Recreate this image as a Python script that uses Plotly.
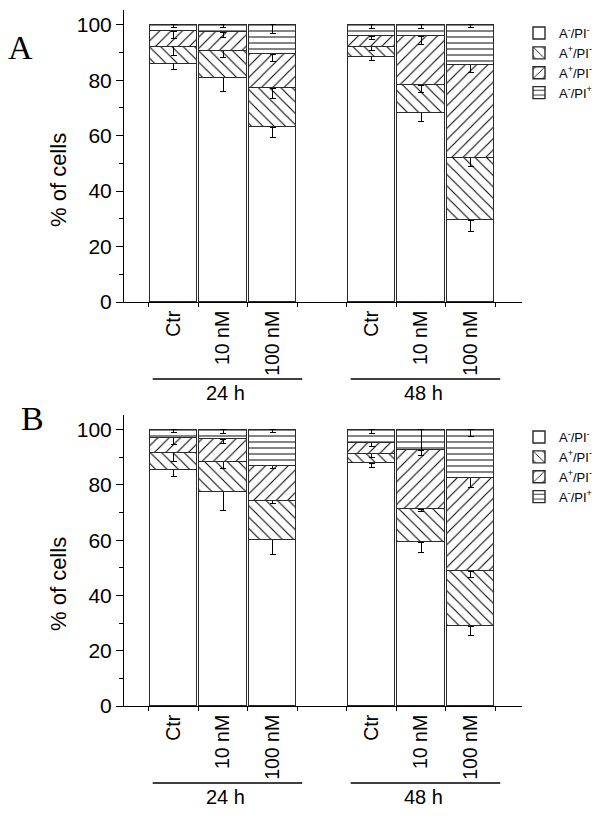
import plotly.graph_objects as go

# ---------------- data ----------------
categories = ["Ctr", "10 nM", "100 nM", "Ctr", "10 nM", "100 nM"]
positions = [1, 2, 3, 5, 6, 7]
groups = ["24 h", "48 h"]
group_centers = [2, 6]
series_names = ["A<sup>-</sup>/PI<sup>-</sup>", "A<sup>+</sup>/PI<sup>-</sup>",
                "A<sup>+</sup>/PI<sup>-</sup>", "A<sup>-</sup>/PI<sup>+</sup>"]
y_ticks = [0, 20, 40, 60, 80, 100]

# Panel A (segment heights, %)
A_white = [86.0, 80.8, 63.1, 88.4, 68.3, 29.5]
A_back = [6.0, 9.8, 14.0, 3.6, 9.9, 22.5]
A_fwd = [5.6, 6.7, 12.3, 3.8, 17.6, 33.5]
A_horiz = [2.4, 2.7, 10.6, 4.2, 4.2, 14.5]
A_white_err = [2.3, 4.8, 3.8, 1.2, 3.2, 4.0]
A_back_err = [3.2, 2.4, 3.7, 1.4, 2.7, 3.2]
A_fwd_err = [2.4, 1.9, 2.8, 1.2, 2.8, 2.7]
A_horiz_err = [1.0, 0.9, 3.1, 1.2, 1.2, 1.0]

# Panel B
B_white = [85.4, 77.5, 60.1, 87.8, 59.3, 28.8]
B_back = [6.3, 10.9, 14.2, 3.4, 11.9, 19.9]
B_fwd = [5.3, 8.1, 12.7, 4.1, 21.4, 33.9]
B_horiz = [3.0, 3.5, 13.0, 4.7, 7.4, 17.4]
B_white_err = [2.2, 6.6, 5.1, 1.4, 3.8, 3.3]
B_back_err = [3.3, 2.4, 1.0, 1.2, 0.8, 2.1]
B_fwd_err = [2.2, 1.5, 1.0, 1.4, 1.8, 3.5]
B_horiz_err = [1.0, 1.4, 1.2, 1.4, 9.2, 2.5]

# ---------------- styling ----------------
W, H = 604, 819
OFF = 8  # page body margin
FONT = "Liberation Sans, Arial, sans-serif"
patterns = [
    dict(shape=""),
    dict(shape="\\", size=8, solidity=0.13, fgcolor="black", bgcolor="white", fillmode="replace"),
    dict(shape="/", size=8, solidity=0.13, fgcolor="black", bgcolor="white", fillmode="replace"),
    dict(shape="-", size=6, solidity=0.22, fgcolor="#444", bgcolor="white", fillmode="replace"),
]

def px_x(p):
    return (p - OFF) / W

def px_y(p):
    return 1 - (p - OFF) / H

fig = go.Figure()

panels = [
    ("x", "y", "legend", [A_white, A_back, A_fwd, A_horiz],
     [A_white_err, A_back_err, A_fwd_err, A_horiz_err]),
    ("x2", "y2", "legend2", [B_white, B_back, B_fwd, B_horiz],
     [B_white_err, B_back_err, B_fwd_err, B_horiz_err]),
]

for xa, ya, lg, series, errs in panels:
    for i, (vals, err) in enumerate(zip(series, errs)):
        fig.add_trace(go.Bar(
            x=positions, y=vals, name=series_names[i],
            xaxis=xa, yaxis=ya, legend=lg,
            width=0.955,
            marker=dict(color="white", pattern=patterns[i],
                        line=dict(color="#2a2a2a", width=1.4)),
            error_y=dict(type="data", symmetric=False, array=[0] * len(vals),
                         arrayminus=err, color="black", thickness=1, width=3),
            hoverinfo="skip",
        ))

edges = sorted(set([p - 0.5 for p in positions] + [p + 0.5 for p in positions]))

def xaxis_cfg(dom_anchor):
    return dict(
        domain=[px_x(124), px_x(522)], range=[0, 8.04], anchor=dom_anchor,
        tickmode="array", tickvals=positions, ticktext=categories,
        tickangle=-90, ticks="", showline=True, linecolor="black", linewidth=1,
        tickfont=dict(family=FONT, size=19.5, color="black"),
        minor=dict(tickmode="array", tickvals=edges, ticks="outside",
                   ticklen=4, tickcolor="black", tickwidth=1),
        showgrid=False, zeroline=False, fixedrange=True, automargin=False,
    )

def yaxis_cfg(top, bottom, anchor):
    return dict(
        domain=[px_y(bottom), px_y(top)], range=[0, 105.3], anchor=anchor,
        tickmode="array", tickvals=y_ticks, ticks="outside", ticklen=7,
        tickcolor="black", tickwidth=1,
        minor=dict(dtick=10, tick0=0, ticks="outside", ticklen=4,
                   tickcolor="black", tickwidth=1),
        showline=True, linecolor="black", linewidth=1,
        tickfont=dict(family=FONT, size=21, color="black"),
        showgrid=False, zeroline=False, fixedrange=True, automargin=False,
    )

legend_common = dict(
    xanchor="left", yanchor="top", traceorder="normal",
    font=dict(family=FONT, size=13, color="black"),
    bgcolor="rgba(0,0,0,0)", borderwidth=0, itemclick=False,
)

fig.update_layout(
    width=W, height=H, margin=dict(l=0, r=0, t=0, b=0, autoexpand=False),
    paper_bgcolor="white", plot_bgcolor="white",
    barmode="stack", bargap=0,
    showlegend=True,
    xaxis=xaxis_cfg("y"), yaxis=yaxis_cfg(10, 302, "x"),
    xaxis2=xaxis_cfg("y2"), yaxis2=yaxis_cfg(415, 706, "x2"),
    legend=dict(x=px_x(519), y=px_y(18), **legend_common),
    legend2=dict(x=px_x(519), y=px_y(422), **legend_common),
    font=dict(family=FONT, color="black"),
)

annotations = []
shapes = []
for off, letter, lx, ly in [(0, "A", 20, 47), (404, "B", 32, 418)]:
    annotations.append(dict(text=letter, x=px_x(lx), y=px_y(ly), xref="paper", yref="paper",
                            xanchor="center", yanchor="middle", showarrow=False,
                            font=dict(family="Liberation Serif, Times New Roman, serif",
                                      size=34, color="black")))
    annotations.append(dict(text="% of cells", textangle=-90, x=px_x(58), y=px_y(180 + off),
                            xref="paper", yref="paper", xanchor="center", yanchor="middle",
                            showarrow=False, font=dict(family=FONT, size=22, color="black")))
    xr = "x" if off == 0 else "x2"
    for g, c in zip(groups, group_centers):
        shapes.append(dict(type="line", xref=xr, yref="paper", x0=c - 1.42, x1=c + 1.6,
                           y0=px_y(379 + off), y1=px_y(379 + off),
                           line=dict(color="black", width=1.5)))
        annotations.append(dict(text=g, xref=xr, yref="paper", x=c + 0.05, y=px_y(393 + off),
                                xanchor="center", yanchor="middle",
                                showarrow=False, font=dict(family=FONT, size=20, color="black")))

fig.update_layout(annotations=annotations, shapes=shapes)

fig.write_html("out.html")
